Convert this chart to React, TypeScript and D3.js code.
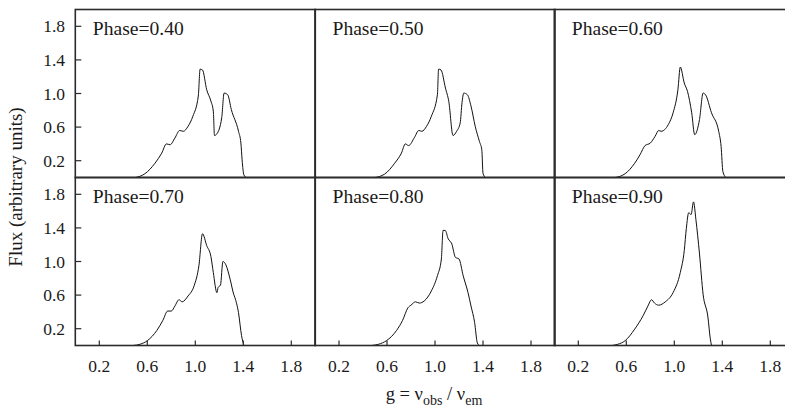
import React from "react";
import * as d3 from "d3";

const phases = ["0.40", "0.50", "0.60", "0.70", "0.80", "0.90"];

const g040 = [0.50,0.54,0.58,0.664,0.72,0.76,0.79,0.83,0.87,0.90,0.94,0.98,1.025,1.04,1.06,1.095,1.13,1.15,1.16,1.18,1.22,1.24,1.27,1.30,1.36,1.38,1.39,1.405,1.425];
const f040 = [0,0.015,0.045,0.17,0.29,0.40,0.39,0.47,0.56,0.55,0.61,0.73,0.97,1.29,1.28,1.045,0.91,0.79,0.50,0.52,0.71,1.005,0.985,0.81,0.55,0.41,0.21,0.03,0];

const g050 = [0.50,0.54,0.58,0.664,0.72,0.753,0.78,0.83,0.865,0.89,0.93,0.97,1.02,1.03,1.05,1.087,1.115,1.15,1.18,1.21,1.225,1.24,1.27,1.30,1.335,1.37,1.39,1.40,1.42];
const f050 = [0,0.013,0.04,0.17,0.29,0.40,0.38,0.48,0.56,0.55,0.61,0.73,0.985,1.29,1.28,1.065,0.905,0.50,0.55,0.65,0.89,1.005,0.985,0.85,0.61,0.43,0.33,0.05,0];

const g060 = [0.506,0.55,0.59,0.67,0.714,0.756,0.80,0.84,0.87,0.89,0.95,0.99,1.03,1.05,1.083,1.11,1.145,1.17,1.21,1.24,1.26,1.31,1.37,1.39,1.405,1.43];
const f060 = [0,0.015,0.045,0.17,0.27,0.38,0.41,0.49,0.56,0.55,0.63,0.77,1.045,1.315,1.125,1.025,0.77,0.51,0.69,1.005,0.985,0.77,0.55,0.37,0.07,0];

const g070 = [0.48,0.54,0.60,0.68,0.73,0.77,0.80,0.83,0.864,0.89,0.94,0.99,1.03,1.06,1.095,1.13,1.15,1.18,1.19,1.21,1.23,1.255,1.29,1.32,1.33,1.36,1.385,1.405];
const f070 = [0,0.015,0.057,0.18,0.30,0.41,0.41,0.47,0.545,0.52,0.59,0.71,0.95,1.33,1.19,1.06,0.87,0.63,0.69,0.72,1.00,0.96,0.79,0.61,0.57,0.39,0.12,0];

const g080 = [0.47,0.53,0.595,0.68,0.73,0.775,0.80,0.837,0.87,0.91,0.97,1.02,1.053,1.067,1.085,1.11,1.14,1.17,1.20,1.235,1.275,1.30,1.33,1.353,1.37];
const f080 = [0,0.015,0.057,0.18,0.30,0.45,0.48,0.52,0.505,0.53,0.65,0.83,1.03,1.37,1.37,1.27,1.21,1.05,1.03,0.83,0.63,0.47,0.275,0.03,0];

const g090 = [0.48,0.53,0.59,0.67,0.74,0.78,0.81,0.835,0.87,0.925,0.99,1.05,1.083,1.10,1.12,1.14,1.16,1.18,1.21,1.24,1.28,1.30,1.31];
const f090 = [0,0.015,0.057,0.195,0.355,0.47,0.545,0.505,0.48,0.52,0.63,0.87,1.13,1.39,1.58,1.56,1.71,1.50,1.09,0.61,0.34,0.08,0];

const seriesG = [g040, g050, g060, g070, g080, g090];
const seriesF = [f040, f050, f060, f070, f080, f090];

const xTicks = [0.2, 0.6, 1.0, 1.4, 1.8];
const yTicks = [0.2, 0.6, 1.0, 1.4, 1.8];

const W = 785;
const H = 408;
const colLeft = [75.3, 315.0, 554.3];
const panelW = 240;
const rowTop = [9.5, 177.5];
const panelH = 168;

const FONT = "'Liberation Serif', 'Times New Roman', Times, serif";

export default function App() {
  const panels = phases.map((ph, i) => {
    const col = i % 3;
    const row = Math.floor(i / 3);
    const x = d3.scaleLinear().domain([0, 2]).range([colLeft[col], colLeft[col] + panelW]);
    const y = d3.scaleLinear().domain([0, 2]).range([rowTop[row] + panelH, rowTop[row]]);
    const pts = seriesG[i].map((g, k) => [g, seriesF[i][k]] as [number, number]);
    const line = d3
      .line<[number, number]>()
      .x((d) => x(d[0]))
      .y((d) => y(d[1]))
      .curve(d3.curveMonotoneX);
    return { ph, col, row, x, y, path: line(pts) || "" };
  });

  const txt = { fontFamily: FONT };

  return (
    <svg
      width={W}
      height={H}
      style={{ position: "absolute", left: 0, top: 0, background: "#fff", fontFamily: FONT }}
    >
      <rect x={0} y={0} width={W} height={H} fill="#fff" />
      {panels.map((p, i) => (
        <g key={i}>
          <path d={p.path} fill="none" stroke="#111" strokeWidth={1} strokeLinejoin="round" />
          <rect
            x={p.x(0)}
            y={p.y(2)}
            width={p.x(2) - p.x(0)}
            height={p.y(0) - p.y(2)}
            fill="none"
            stroke="#2b2b2b"
            strokeWidth={1.6}
          />
          <text
            x={p.x(0) + 17.5}
            y={p.y(2) + 25}
            fontSize={18}
            fill="#1a1a1a"
            style={txt}
            textLength={91}
            lengthAdjust="spacingAndGlyphs"
          >
            {`Phase=${p.ph}`}
          </text>
          {p.col === 0 &&
            yTicks.map((t) => (
              <g key={`y${t}`}>
                <line x1={p.x(0)} x2={p.x(0) + 6} y1={p.y(t)} y2={p.y(t)} stroke="#2b2b2b" strokeWidth={1.2} />
                <text x={65} y={p.y(t) + 6} fontSize={17.5} textAnchor="end" fill="#1a1a1a" style={txt}>
                  {t.toFixed(1)}
                </text>
              </g>
            ))}
          {p.row === 1 &&
            xTicks.map((t) => (
              <g key={`x${t}`}>
                <line x1={p.x(t)} x2={p.x(t)} y1={p.y(0)} y2={p.y(0) - 5} stroke="#2b2b2b" strokeWidth={1.2} />
                <text x={p.x(t)} y={372} fontSize={17.5} textAnchor="middle" fill="#1a1a1a" style={txt}>
                  {t.toFixed(1)}
                </text>
              </g>
            ))}
        </g>
      ))}
      <text
        transform="translate(22,187) rotate(-90)"
        textAnchor="middle"
        fontSize={19}
        fill="#1a1a1a"
        style={txt}
      >
        Flux (arbitrary units)
      </text>
      <text x={434} y={400} textAnchor="middle" fontSize={18.5} fill="#1a1a1a" style={txt}>
        <tspan>g = ν</tspan>
        <tspan fontSize={14} dy={5}>obs</tspan>
        <tspan dy={-5}> / ν</tspan>
        <tspan fontSize={14} dy={5}>em</tspan>
      </text>
    </svg>
  );
}
